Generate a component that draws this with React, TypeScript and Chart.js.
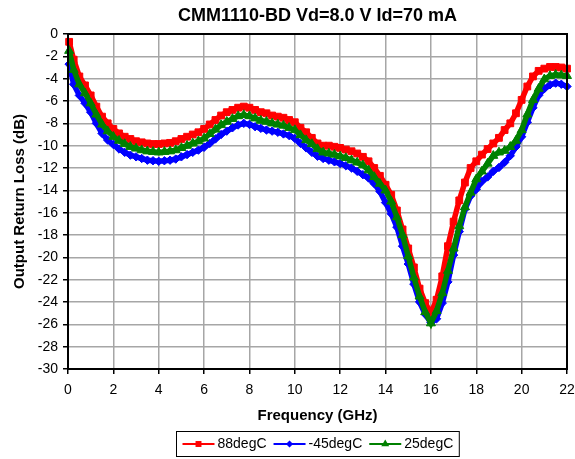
import React, { useEffect, useRef } from 'react';
import { Chart, registerables } from 'chart.js';

Chart.register(...registerables);

const FONT = "'Liberation Sans', Arial, sans-serif";

const chartTitle = 'CMM1110-BD Vd=8.0 V Id=70 mA';
const xTitle = 'Frequency (GHz)';
const yTitle = 'Output Return Loss (dB)';

// frequency points (GHz)
const freqGHz = [
  0.05, 0.25, 0.5, 0.75, 1, 1.25, 1.5, 1.75, 2, 2.25,
  2.5, 2.75, 3, 3.25, 3.5, 3.75, 4, 4.25, 4.5, 4.75,
  5, 5.25, 5.5, 5.75, 6, 6.25, 6.5, 6.75, 7, 7.25,
  7.5, 7.75, 8, 8.25, 8.5, 8.75, 9, 9.25, 9.5, 9.75,
  10, 10.25, 10.5, 10.75, 11, 11.25, 11.5, 11.75, 12, 12.25,
  12.5, 12.75, 13, 13.25, 13.5, 13.75, 14, 14.25, 14.5, 14.75,
  15, 15.25, 15.5, 15.75, 16, 16.25, 16.5, 16.75, 17, 17.25,
  17.5, 17.75, 18, 18.25, 18.5, 18.75, 19, 19.25, 19.5, 19.75,
  20, 20.25, 20.5, 20.75, 21, 21.25, 21.5, 21.75, 22,
];

// return loss (dB) per temperature
const loss88 = [
  -0.7, -2.3, -3.8, -4.6, -5.5, -6.5, -7.4, -8.0, -8.5, -8.9,
  -9.2, -9.4, -9.6, -9.7, -9.8, -9.85, -9.85, -9.8, -9.75, -9.6,
  -9.4, -9.2, -9.0, -8.8, -8.5, -8.1, -7.7, -7.3, -7.0, -6.8,
  -6.6, -6.5, -6.6, -6.8, -7.0, -7.1, -7.3, -7.4, -7.5, -7.7,
  -7.9, -8.4, -8.8, -9.3, -9.8, -10.0, -10.0, -10.1, -10.2, -10.35,
  -10.5, -10.7, -11.0, -11.4, -12.0, -12.7, -13.5, -14.4, -15.8, -17.5,
  -19.2, -20.9, -22.8, -24.1, -25.0, -23.8, -21.7, -19.0, -16.8, -14.9,
  -13.3, -12.0, -11.4, -10.8, -10.3, -9.8, -9.3, -8.6, -8.0, -7.1,
  -5.9, -4.7, -3.8, -3.3, -3.1, -2.95, -2.95, -3.0, -3.1,
];

const lossM45 = [
  -2.7, -4.5, -5.5, -6.2, -7.0, -8.0, -8.9, -9.5, -9.9, -10.3,
  -10.6, -10.85, -11.0, -11.15, -11.3, -11.35, -11.4, -11.35, -11.3, -11.2,
  -11.0, -10.8, -10.6, -10.4, -10.15, -9.8, -9.4, -9.0, -8.7, -8.4,
  -8.15, -8.0, -8.1, -8.3, -8.45, -8.6, -8.7, -8.8, -8.95, -9.1,
  -9.35, -9.8, -10.2, -10.6, -10.95, -11.15, -11.3, -11.45, -11.6, -11.8,
  -12.0, -12.3, -12.6, -12.9, -13.4, -14.1, -15.1, -16.1, -17.3, -19.0,
  -20.6, -22.4, -24.0, -25.1, -25.85, -25.5, -24.1, -22.2, -19.8, -17.7,
  -15.7, -14.5, -13.9, -13.2, -12.8, -12.3, -11.95, -11.5, -10.9, -10.1,
  -9.2, -7.9, -6.6, -5.5, -4.9, -4.55, -4.4, -4.5, -4.7,
];

const loss25 = [
  -1.5, -3.2, -4.5, -5.3, -6.2, -7.2, -8.1, -8.7, -9.2, -9.55,
  -9.85, -10.1, -10.25, -10.4, -10.5, -10.55, -10.6, -10.55, -10.5, -10.4,
  -10.2, -10.0, -9.8, -9.6, -9.35, -8.95, -8.55, -8.15, -7.85, -7.6,
  -7.35, -7.25, -7.35, -7.55, -7.75, -7.85, -8.0, -8.1, -8.2, -8.4,
  -8.6, -9.05, -9.5, -9.85, -10.3, -10.6, -10.7, -10.8, -10.95, -11.1,
  -11.3, -11.5, -11.75, -12.2, -12.8, -13.4, -14.0, -15.0, -16.4, -18.0,
  -19.9, -21.8, -23.5, -24.9, -25.9, -24.8, -23.2, -21.2, -19.2, -17.2,
  -15.5, -14.2, -13.0, -12.3, -11.6, -10.9, -10.6, -10.45, -10.1, -9.55,
  -8.6, -7.2, -5.9, -4.9, -4.05, -3.75, -3.65, -3.7, -3.75,
];

const seriesNames = ['88degC', '-45degC', '25degC'];
const seriesValues = [loss88, lossM45, loss25];
const seriesColors = ['#ff0000', '#0000ff', '#008000'];
const seriesMarkers = ['rect', 'rectRot', 'triangle'];
const markerRadius = [4.8, 4.2, 5.2];
const legendMarkerRadius = [4.2, 3.6, 4.6];

function drawMarker(ctx: CanvasRenderingContext2D, kind: string, x: number, y: number, r: number) {
  ctx.beginPath();
  if (kind === 'rect') {
    const s = r * Math.SQRT1_2;
    ctx.rect(x - s, y - s, 2 * s, 2 * s);
  } else if (kind === 'rectRot') {
    ctx.moveTo(x, y - r);
    ctx.lineTo(x + r, y);
    ctx.lineTo(x, y + r);
    ctx.lineTo(x - r, y);
    ctx.closePath();
  } else {
    const a = (Math.PI * 2) / 3;
    ctx.moveTo(x, y - r);
    ctx.lineTo(x + Math.sin(a) * r, y - Math.cos(a) * r);
    ctx.lineTo(x - Math.sin(a) * r, y - Math.cos(a) * r);
    ctx.closePath();
  }
  ctx.fill();
}

const decorations = {
  id: 'decorations',
  afterDraw(chart: any) {
    const { ctx, chartArea } = chart;
    const { left, right, top, bottom } = chartArea;
    const cx = (left + right) / 2;
    ctx.save();

    // plot frame
    ctx.strokeStyle = '#000';
    ctx.lineWidth = 2;
    ctx.strokeRect(left, top, right - left, bottom - top);

    ctx.fillStyle = '#000';
    ctx.textAlign = 'center';
    ctx.textBaseline = 'middle';
    ctx.font = `bold 18px ${FONT}`;
    ctx.fillText(chartTitle, cx, 16);

    ctx.font = `bold 15px ${FONT}`;
    ctx.fillText(xTitle, cx, 416);

    ctx.save();
    ctx.translate(20, (top + bottom) / 2);
    ctx.rotate(-Math.PI / 2);
    ctx.fillText(yTitle, 0, 0);
    ctx.restore();

    // legend
    ctx.font = `14px ${FONT}`;
    const lineLen = 32;
    const gapText = 3;
    const gapItem = 7;
    const pad = 6;
    const widths = seriesNames.map((n) => ctx.measureText(n).width);
    const total = widths.reduce((a, w) => a + lineLen + gapText + w, 0) + gapItem * (seriesNames.length - 1) + pad * 2;
    const bx = Math.round(cx - total / 2) + 0.5;
    const by = 431.5;
    const bh = 25;
    ctx.fillStyle = '#fff';
    ctx.fillRect(bx, by, total, bh);
    ctx.strokeStyle = '#000';
    ctx.lineWidth = 1;
    ctx.strokeRect(bx, by, total, bh);
    const ly = by + bh / 2;
    let x = bx + pad;
    ctx.textAlign = 'left';
    seriesNames.forEach((name, i) => {
      ctx.strokeStyle = seriesColors[i];
      ctx.fillStyle = seriesColors[i];
      ctx.lineWidth = 2;
      ctx.beginPath();
      ctx.moveTo(x, ly);
      ctx.lineTo(x + lineLen, ly);
      ctx.stroke();
      drawMarker(ctx, seriesMarkers[i], x + lineLen / 2, ly, legendMarkerRadius[i]);
      x += lineLen + gapText;
      ctx.fillStyle = '#000';
      ctx.fillText(name, x, ly + 0.5);
      x += widths[i] + gapItem;
    });

    ctx.restore();
  },
};

const ReturnLossChart: React.FC = () => {
  const chartRef = useRef<HTMLCanvasElement | null>(null);

  useEffect(() => {
    document.body.style.margin = '0';
    if (!chartRef.current) return;
    const ctx = chartRef.current.getContext('2d');
    if (!ctx) return;

    const datasets = seriesNames.map((name, i) => ({
      label: name,
      data: freqGHz.map((f, j) => ({ x: f, y: seriesValues[i][j] })),
      borderColor: seriesColors[i],
      backgroundColor: seriesColors[i],
      borderWidth: 5.5,
      pointStyle: seriesMarkers[i] as any,
      pointRadius: markerRadius[i],
      pointBorderWidth: 1,
      pointBorderColor: seriesColors[i],
      pointBackgroundColor: seriesColors[i],
      tension: 0,
      order: 3 - i,
      clip: 6,
    }));

    const myChart = new Chart(ctx, {
      type: 'line',
      data: { datasets },
      options: {
        animation: false,
        responsive: true,
        maintainAspectRatio: false,
        layout: { padding: { top: 34, right: 8, left: 0, bottom: 0 } },
        plugins: {
          legend: { display: false },
          title: { display: false },
          tooltip: { enabled: false },
        },
        scales: {
          x: {
            type: 'linear',
            min: 0,
            max: 22,
            afterFit: (s: any) => {
              s.height = 90;
              s.paddingLeft = 0;
              s.paddingRight = 0;
            },
            ticks: {
              stepSize: 2,
              color: '#000',
              padding: 8,
              maxRotation: 0,
              font: { family: FONT, size: 14 },
            },
            grid: {
              color: '#a6a6a6',
              lineWidth: 1.5,
              tickColor: '#000',
              tickLength: 5,
            },
            border: { display: true, color: '#000', width: 2 },
          },
          y: {
            min: -30,
            max: 0,
            afterFit: (s: any) => {
              s.width = 68;
              s.paddingTop = 0;
              s.paddingBottom = 0;
            },
            ticks: {
              stepSize: 2,
              color: '#000',
              padding: 5,
              font: { family: FONT, size: 14 },
            },
            grid: {
              color: '#a6a6a6',
              lineWidth: 1.5,
              tickColor: '#000',
              tickLength: 5,
            },
            border: { display: true, color: '#000', width: 2 },
          },
        },
      },
      plugins: [decorations],
    });

    return () => {
      myChart.destroy();
    };
  }, []);

  return (
    <div style={{ position: 'relative', width: 575, height: 459, background: '#fff' }}>
      <canvas ref={chartRef} />
    </div>
  );
};

export default function App() {
  return <ReturnLossChart />;
}
